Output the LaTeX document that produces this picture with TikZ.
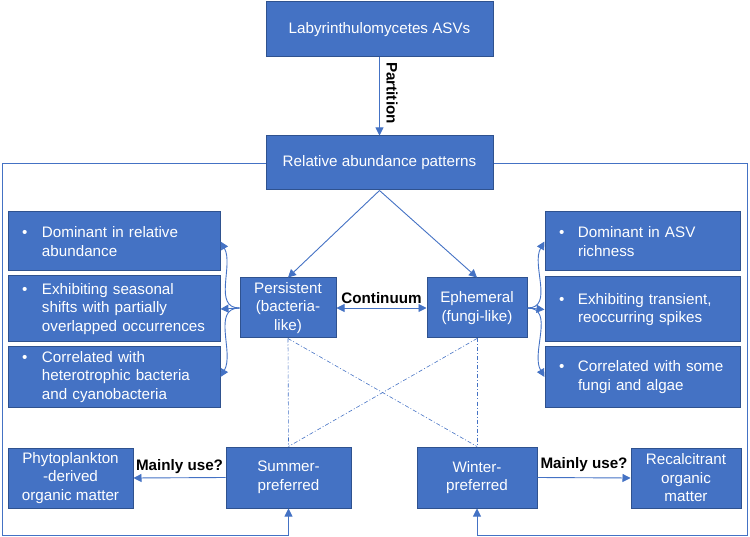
\documentclass[tikz,border=0pt]{standalone}
\usepackage{fontspec}
\setmainfont{Liberation Sans}
\usetikzlibrary{arrows.meta}
\definecolor{boxfill}{HTML}{4472C4}
\definecolor{boxborder}{HTML}{2F528F}
\definecolor{linec}{HTML}{4472C4}
\newcommand{\mainsz}{\fontsize{15.2}{18.5}\selectfont}
\newcommand{\bulL}{\makebox[20pt][l]{\textbullet}}
\newcommand{\bulR}{\makebox[19pt][l]{\textbullet}}
\tikzset{
  mytip/.tip={Triangle[length=8pt,width=8pt]},
  box/.style={draw=boxborder, fill=boxfill, text=white, line width=1pt, inner sep=0pt, align=center, font=\mainsz},
  bbox/.style={box, align=left, inner xsep=14pt, inner ysep=0pt, text width=#1},
  conn/.style={draw=linec, line width=0.9pt, -mytip},
  dd/.style={draw=linec, line width=0.6pt, dash pattern=on 4pt off 2pt on 1pt off 2pt},
  lbl/.style={font=\bfseries\mainsz, text=black, inner sep=1pt}
}
\begin{document}
\begin{tikzpicture}[x=1pt,y=-1pt]
\useasboundingbox (0,0) rectangle (750,537);
% main nodes
\node[box, minimum width=227pt, minimum height=55pt] (top) at (379.5,29.5) {Labyrinthulomycetes ASVs};
\node[box, minimum width=227pt, minimum height=54pt] (rel) at (379.5,163) {Relative abundance patterns};
\node[box, minimum width=96pt, minimum height=60pt] (pers) at (288,308) {Persistent\\(bacteria-\\like)};
\node[box, minimum width=100pt, minimum height=60pt] (eph) at (477,308) {Ephemeral\\(fungi-like)};
\node[box, minimum width=125pt, minimum height=61pt] (sum) at (288.5,477.5) {Summer-\\preferred};
\node[box, minimum width=120pt, minimum height=61pt] (win) at (477,477.5) {Winter-\\preferred};
\node[box, minimum width=125pt, minimum height=60pt] (phy) at (70.5,478) {Phytoplankton\\-derived\\organic matter};
\node[box, minimum width=110pt, minimum height=60pt] (rec) at (686,478) {Recalcitrant\\organic\\matter};
% bullet boxes
\node[bbox=184pt, minimum height=59pt] (l1) at (114,241.5) {\bulL Dominant in relative\\\hspace*{20pt}abundance};
\node[bbox=184pt, minimum height=66pt] (l2) at (114,309) {\bulL Exhibiting seasonal\\\hspace*{20pt}shifts with partially\\\hspace*{20pt}overlapped occurrences};
\node[bbox=184pt, minimum height=60pt] (l3) at (114,377) {\bulL Correlated with\\\hspace*{20pt}heterotrophic bacteria\\\hspace*{20pt}and cyanobacteria};
\node[bbox=167pt, minimum height=59pt] (r1) at (642.5,241.5) {\bulR Dominant in ASV\\\hspace*{19pt}richness};
\node[bbox=167pt, minimum height=65pt] (r2) at (642.5,309.5) {\bulR Exhibiting transient,\\\hspace*{19pt}reoccurring spikes};
\node[bbox=167pt, minimum height=60pt] (r3) at (642.5,377) {\bulR Correlated with some\\\hspace*{19pt}fungi and algae};
% labels
\node[lbl, rotate=-90] (part) at (392,93) {Partition};
% frame corners
\coordinate (cornerL) at (2,535);
\coordinate (cornerR) at (747,535);
% connectors
\draw[conn] (top.south) -- (rel.north);
\draw[conn] (rel.south) -- (pers.north);
\draw[conn] (rel.south) -- (eph.north);
\draw[conn, mytip-mytip] (pers.east) -- (eph.west) node[lbl, midway, above=3pt] (cont) {Continuum};
\draw[conn] (pers.west) to[out=180, in=-60] (l1.east);
\draw[conn] (pers.west) -- (l2.east);
\draw[conn] (pers.west) to[out=180, in=60] (l3.east);
\draw[conn] (eph.east) to[out=0, in=240] (r1.west);
\draw[conn] (eph.east) -- (r2.west);
\draw[conn] (eph.east) to[out=0, in=120] (r3.west);
\draw[conn] (sum.west) -- (phy.west -| phy.east) node[lbl, midway, above=3pt] (mu1) {Mainly use?};
\draw[conn] (win.east) -- (rec.west) node[lbl, midway, above=5pt] (mu2) {Mainly use?};
\draw[conn] (rel.west) -| (cornerL) -| (sum.south);
\draw[conn] (rel.east) -| (cornerR) -| (win.south);
% dash-dot links
\draw[dd] (pers.south) -- (sum.north);
\draw[dd] (pers.south) -- (win.north);
\draw[dd] (eph.south) -- (win.north);
\draw[dd] (eph.south) -- (sum.north);
\end{tikzpicture}
\end{document}
